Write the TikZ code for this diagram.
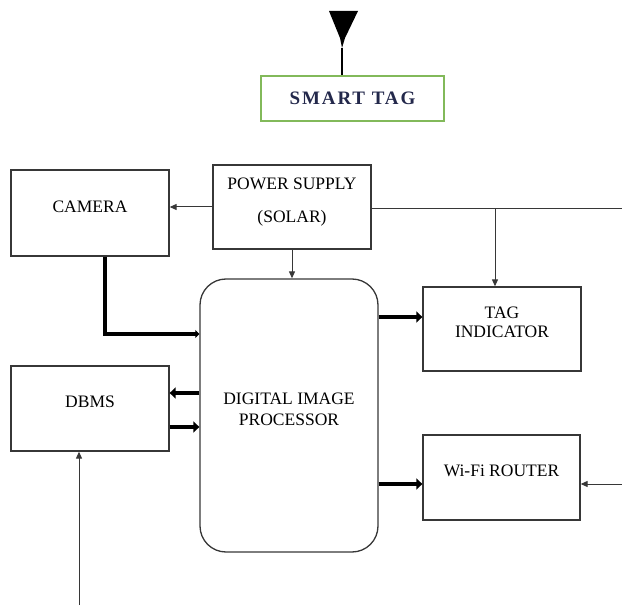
\documentclass[tikz,border=0pt]{standalone}
\usepackage{fontspec}
\setmainfont{Liberation Serif}
\usetikzlibrary{arrows.meta,positioning}
\definecolor{tagGreen}{RGB}{130,185,90}
\definecolor{tagInk}{RGB}{35,40,75}
\definecolor{lineGray}{RGB}{55,55,55}
\tikzset{
    block/.style={draw=lineGray,line width=1.3pt,inner sep=0pt,align=center,text depth=13pt,
        font=\fontsize{17.5}{21}\selectfont},
    thinarrow/.style={draw=lineGray,line width=1pt,-{Triangle[length=7pt,width=6pt]}},
    fatarrow/.style={line width=4pt,-{Triangle[length=6pt,width=11pt]}}
}
\begin{document}
\begin{tikzpicture}[x=1pt,y=-1pt]
        \useasboundingbox (0,0) rectangle (622,607);
        % blocks
        \node[block,minimum width=158pt,minimum height=86pt] (camera) at (90,213) {CAMERA};
        \node[block,minimum width=158pt,minimum height=84pt] (power) at (292,207)
            {POWER SUPPLY\\[12pt](SOLAR)};
        \node[block,minimum width=178pt,minimum height=273pt,rounded corners=26pt] (dip) at (289,415.5)
            {DIGITAL IMAGE\\PROCESSOR};
        \node[block,minimum width=158pt,minimum height=84pt,font=\fontsize{17.5}{19}\selectfont] (tag) at (502,329)
            {TAG\\INDICATOR};
        \node[block,minimum width=158pt,minimum height=85pt] (dbms) at (90,408.5) {DBMS};
        \node[block,minimum width=157pt,minimum height=85pt] (wifi) at (501.5,477.5) {Wi-Fi ROUTER};
        \node[draw=tagGreen,line width=1.5pt,minimum width=183pt,minimum height=45pt,inner sep=0pt,
            text=tagInk,font=\fontsize{19}{20}\selectfont\bfseries\addfontfeature{LetterSpace=10}]
            (smart) at (352.5,98.5) {SMART TAG};
        % antenna
        \coordinate (antTip) at (342,48);
        \fill (329,11) -- (358,11) -- (345,38) -- (antTip) -- (340,38) -- cycle;
        \draw[line width=1.5pt] (antTip) -- (antTip |- smart.north);
        % power lines
        \draw[thinarrow] (power.west) -- (power.west -| camera.east);
        \draw[thinarrow] (power.south) -- (power.south |- dip.north);
        \coordinate (pwrEnd) at (622,209);
        \coordinate (tagJoin) at (495,209);
        \draw[draw=lineGray,line width=1pt] (power.east |- pwrEnd) -- (pwrEnd);
        \draw[thinarrow] (tagJoin) -- (tagJoin |- tag.north);
        % camera to processor
        \coordinate (camBend) at (105,334);
        \draw[line width=4pt,-{Triangle[length=4pt,width=8pt]}]
            (camBend |- camera.south) -- (camBend) -- (camBend -| dip.west);
        % processor outputs
        \coordinate (tagIn) at (423,317);
        \coordinate (dbmsOut) at (169,393);
        \coordinate (dbmsIn) at (169,427);
        \coordinate (wifiIn) at (423,484);
        \draw[fatarrow] (tagIn -| dip.east) -- (tagIn -| tag.west);
        \draw[fatarrow] (dbmsOut -| dip.west) -- (dbmsOut -| dbms.east);
        \draw[fatarrow] (dbmsIn -| dbms.east) -- (dbmsIn -| dip.west);
        \draw[fatarrow] (wifiIn -| dip.east) -- (wifiIn -| wifi.west);
        % outside inputs
        \coordinate (wifiFeed) at (622,484);
        \coordinate (dbmsFeed) at (79,605);
        \draw[thinarrow] (wifiFeed) -- (wifiFeed -| wifi.east);
        \draw[thinarrow] (dbmsFeed) -- (dbmsFeed |- dbms.south);
    \end{tikzpicture}
\end{document}
